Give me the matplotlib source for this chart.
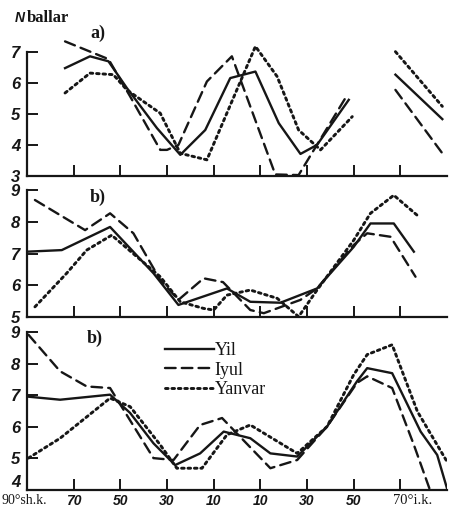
import numpy as np
import matplotlib
matplotlib.use("Agg")
import matplotlib.pyplot as plt

nan = np.nan

# latitude (N positive, S negative) and N ballar values
# panel a)
a_yil_lat = [73.7, 63, 55.1, 47.2, 34.3, 24.3, 13.6, 2.9, -7.9, -17.9, -27.2, -34.3, -47.9, -58, -67.9, -88]
a_yil = [6.47, 6.85, 6.69, 5.83, 4.54, 3.68, 4.48, 6.15, 6.36, 4.70, 3.71, 4.0, 5.45, nan, 6.26, 4.83]
a_iyul_lat = [73.7, 55.1, 45.8, 32.9, 30, 25.1, 12.9, 2.2, -16.4, -26.4, -47.2, -58, -67.9, -88]
a_iyul = [7.33, 6.76, 5.56, 3.84, 3.84, 4.0, 6.04, 6.85, 3.05, 3.03, 5.6, nan, 5.77, 3.73]
a_yanvar_lat = [73.7, 63, 53, 47.2, 32.9, 24.3, 12.9, -7.9, -17.2, -26.4, -35.8, -49.4, -58, -67.9, -88]
a_yanvar = [5.67, 6.31, 6.26, 5.77, 5.02, 3.73, 3.52, 7.17, 6.2, 4.48, 3.84, 4.91, nan, 7.0, 5.24]

# panel b)
b_yil_lat = [90, 75.1, 54.4, 35.8, 25.1, 4.3, -5.7, -18.6, -34.3, -50, -57.2, -67.2, -75.8]
b_yil = [7.06, 7.11, 7.84, 6.38, 5.38, 5.9, 5.48, 5.45, 5.9, 7.21, 7.95, 7.95, 7.06]
b_iyul_lat = [86.6, 65.1, 54.4, 44.4, 32.9, 25.1, 14.3, 6, -5.7, -11.5, -27.2, -34.3, -50, -55.8, -65.8, -76.5]
b_iyul = [8.69, 7.74, 8.27, 7.64, 6.17, 5.54, 6.22, 6.1, 5.22, 5.12, 5.54, 5.9, 7.27, 7.64, 7.53, 6.27]
b_yanvar_lat = [86.6, 73, 64.4, 53.7, 32.9, 24.3, 14.3, 10, 4.3, -5.7, -17.2, -26.4, -34.3, -50, -57.2, -67.2, -78]
b_yanvar = [5.32, 6.38, 7.11, 7.58, 6.27, 5.48, 5.27, 5.22, 5.69, 5.85, 5.59, 5.01, 5.85, 7.42, 8.27, 8.84, 8.16]

# panel c)
c_yil_lat = [90, 75.8, 54.4, 45.8, 35.8, 26.5, 15.8, 5.7, -5.7, -14.3, -25.8, -38.6, -51.4, -55.8, -66.5, -78.7, -85.8, -90]
c_yil = [6.96, 6.86, 7.02, 6.44, 5.48, 4.79, 5.16, 5.85, 5.64, 5.16, 5.06, 6.01, 7.44, 7.86, 7.7, 5.85, 5.11, 4.05]
c_iyul_lat = [89.4, 75.8, 64.4, 54.4, 35.8, 27.2, 15.8, 6.4, -14.3, -25.8, -38.6, -51.4, -55.8, -66.5, -75.8, -82.7]
c_iyul = [8.92, 7.76, 7.28, 7.23, 5.01, 4.95, 6.06, 6.28, 4.69, 4.95, 6.01, 7.39, 7.6, 7.23, 5.43, 4.0]
c_yanvar_lat = [89.4, 75.8, 54.4, 45.8, 32.9, 25.8, 15, 4.3, -5.7, -25.8, -38.6, -50, -55.8, -66.5, -77.3, -90]
c_yanvar = [5.01, 5.64, 6.91, 6.64, 5.43, 4.69, 4.69, 5.75, 6.06, 5.16, 6.01, 7.65, 8.29, 8.6, 6.49, 4.9]

x_ticks = [70, 50, 30, 10, -10, -30, -50, -70]
x_labels = ["70", "50", "30", "10", "10", "30", "50", ""]
series_names = ["Yil", "Iyul", "Yanvar"]

W, H = 451, 515
SERIF = "Liberation Serif"
SANS = "Liberation Sans"
INK = "#161616"

styles = [
    dict(linestyle="-", linewidth=1.7),
    dict(linestyle=(0, (4.5, 2.6)), linewidth=1.7),
    dict(linestyle=(0, (0.9, 1.3)), linewidth=2.1),
]


def px_box(left, top, right, bottom):
    return [left / W, 1 - bottom / H, (right - left) / W, (bottom - top) / H]


fig = plt.figure(figsize=(W / 100, H / 100), dpi=100)
fig.patch.set_facecolor("white")

panels = [
    (px_box(27, 33, 447, 176), (3, 7.6), [3, 4, 5, 6, 7],
     [(a_yil_lat, a_yil), (a_iyul_lat, a_iyul), (a_yanvar_lat, a_yanvar)], "a)", (0.169, 1.0)),
    (px_box(27, 187, 447, 317), (5, 9.1), [5, 6, 7, 8, 9],
     [(b_yil_lat, b_yil), (b_iyul_lat, b_iyul), (b_yanvar_lat, b_yanvar)], "b)", (0.169, 0.923)),
    (px_box(27, 329, 447, 490), (4, 9.1), [4, 5, 6, 7, 8, 9],
     [(c_yil_lat, c_yil), (c_iyul_lat, c_iyul), (c_yanvar_lat, c_yanvar)], "b)", (0.162, 0.944)),
]

axes = []
for box, ylim, yticks, data, tag, tag_pos in panels:
    ax = fig.add_axes(box)
    ax.set_facecolor("none")
    for (lat, val), st, name in zip(data, styles, series_names):
        ax.plot(lat, val, color=INK, dash_capstyle="round", label=name, **st)
    ax.set_xlim(90, -90)
    ax.set_ylim(*ylim)
    ax.spines["top"].set_visible(False)
    ax.spines["right"].set_visible(False)
    ax.spines["left"].set_bounds(ylim[0], yticks[-1])
    for s in ("left", "bottom"):
        ax.spines[s].set_linewidth(1.6)
        ax.spines[s].set_color(INK)
    ax.set_yticks(yticks)
    ax.set_yticklabels([str(t) for t in yticks], family=SANS, fontweight="bold",
                       fontstyle="italic", fontsize=12)
    ax.set_xticks(x_ticks)
    ax.tick_params(direction="in", length=8, width=1.4, color=INK, labelcolor=INK)
    ax.tick_params(axis="y", pad=5)
    ax.set_xticklabels([])
    ax.text(*tag_pos, tag, transform=ax.transAxes, family=SERIF, fontsize=13,
            fontweight="bold", color=INK, ha="center", va="center")
    axes.append(ax)

ax_a, ax_b, ax_c = axes

# the lowest "4" sits a little above the axis line in the original
ax_c.get_yticklabels()[0].set_va("bottom")

# bottom panel tick labels
ax_c.set_xticklabels(x_labels, family=SANS, fontweight="bold", fontstyle="italic", fontsize=10)
ax_c.tick_params(axis="x", pad=3)
ax_c.annotate("90°sh.k.", xy=(90, 4), xytext=(-18, -7.5), textcoords="offset points",
              family=SERIF, fontsize=10, color=INK, ha="left", va="center", annotation_clip=False)
ax_c.annotate("70°i.k.", xy=(-70, 4), xytext=(-5, -7.5), textcoords="offset points",
              family=SERIF, fontsize=10.5, color=INK, ha="left", va="center", annotation_clip=False)

leg = ax_c.legend(loc="upper left", bbox_to_anchor=(0.29, 1.02), frameon=False,
                  handlelength=2.7, handletextpad=0.05, labelspacing=0.15,
                  prop={"family": SERIF, "size": 13})
for t in leg.get_texts():
    t.set_color(INK)

# axis caption
fig.text(15 / W, 1 - 18 / H, "N", family=SANS, fontstyle="italic", fontweight="bold",
         fontsize=10, color=INK, ha="left", va="center")
fig.text(27 / W, 1 - 18 / H, "ballar", family=SERIF, fontsize=12, fontweight="bold",
         color=INK, ha="left", va="center")

fig.savefig("out.png", dpi=100, facecolor="white")
